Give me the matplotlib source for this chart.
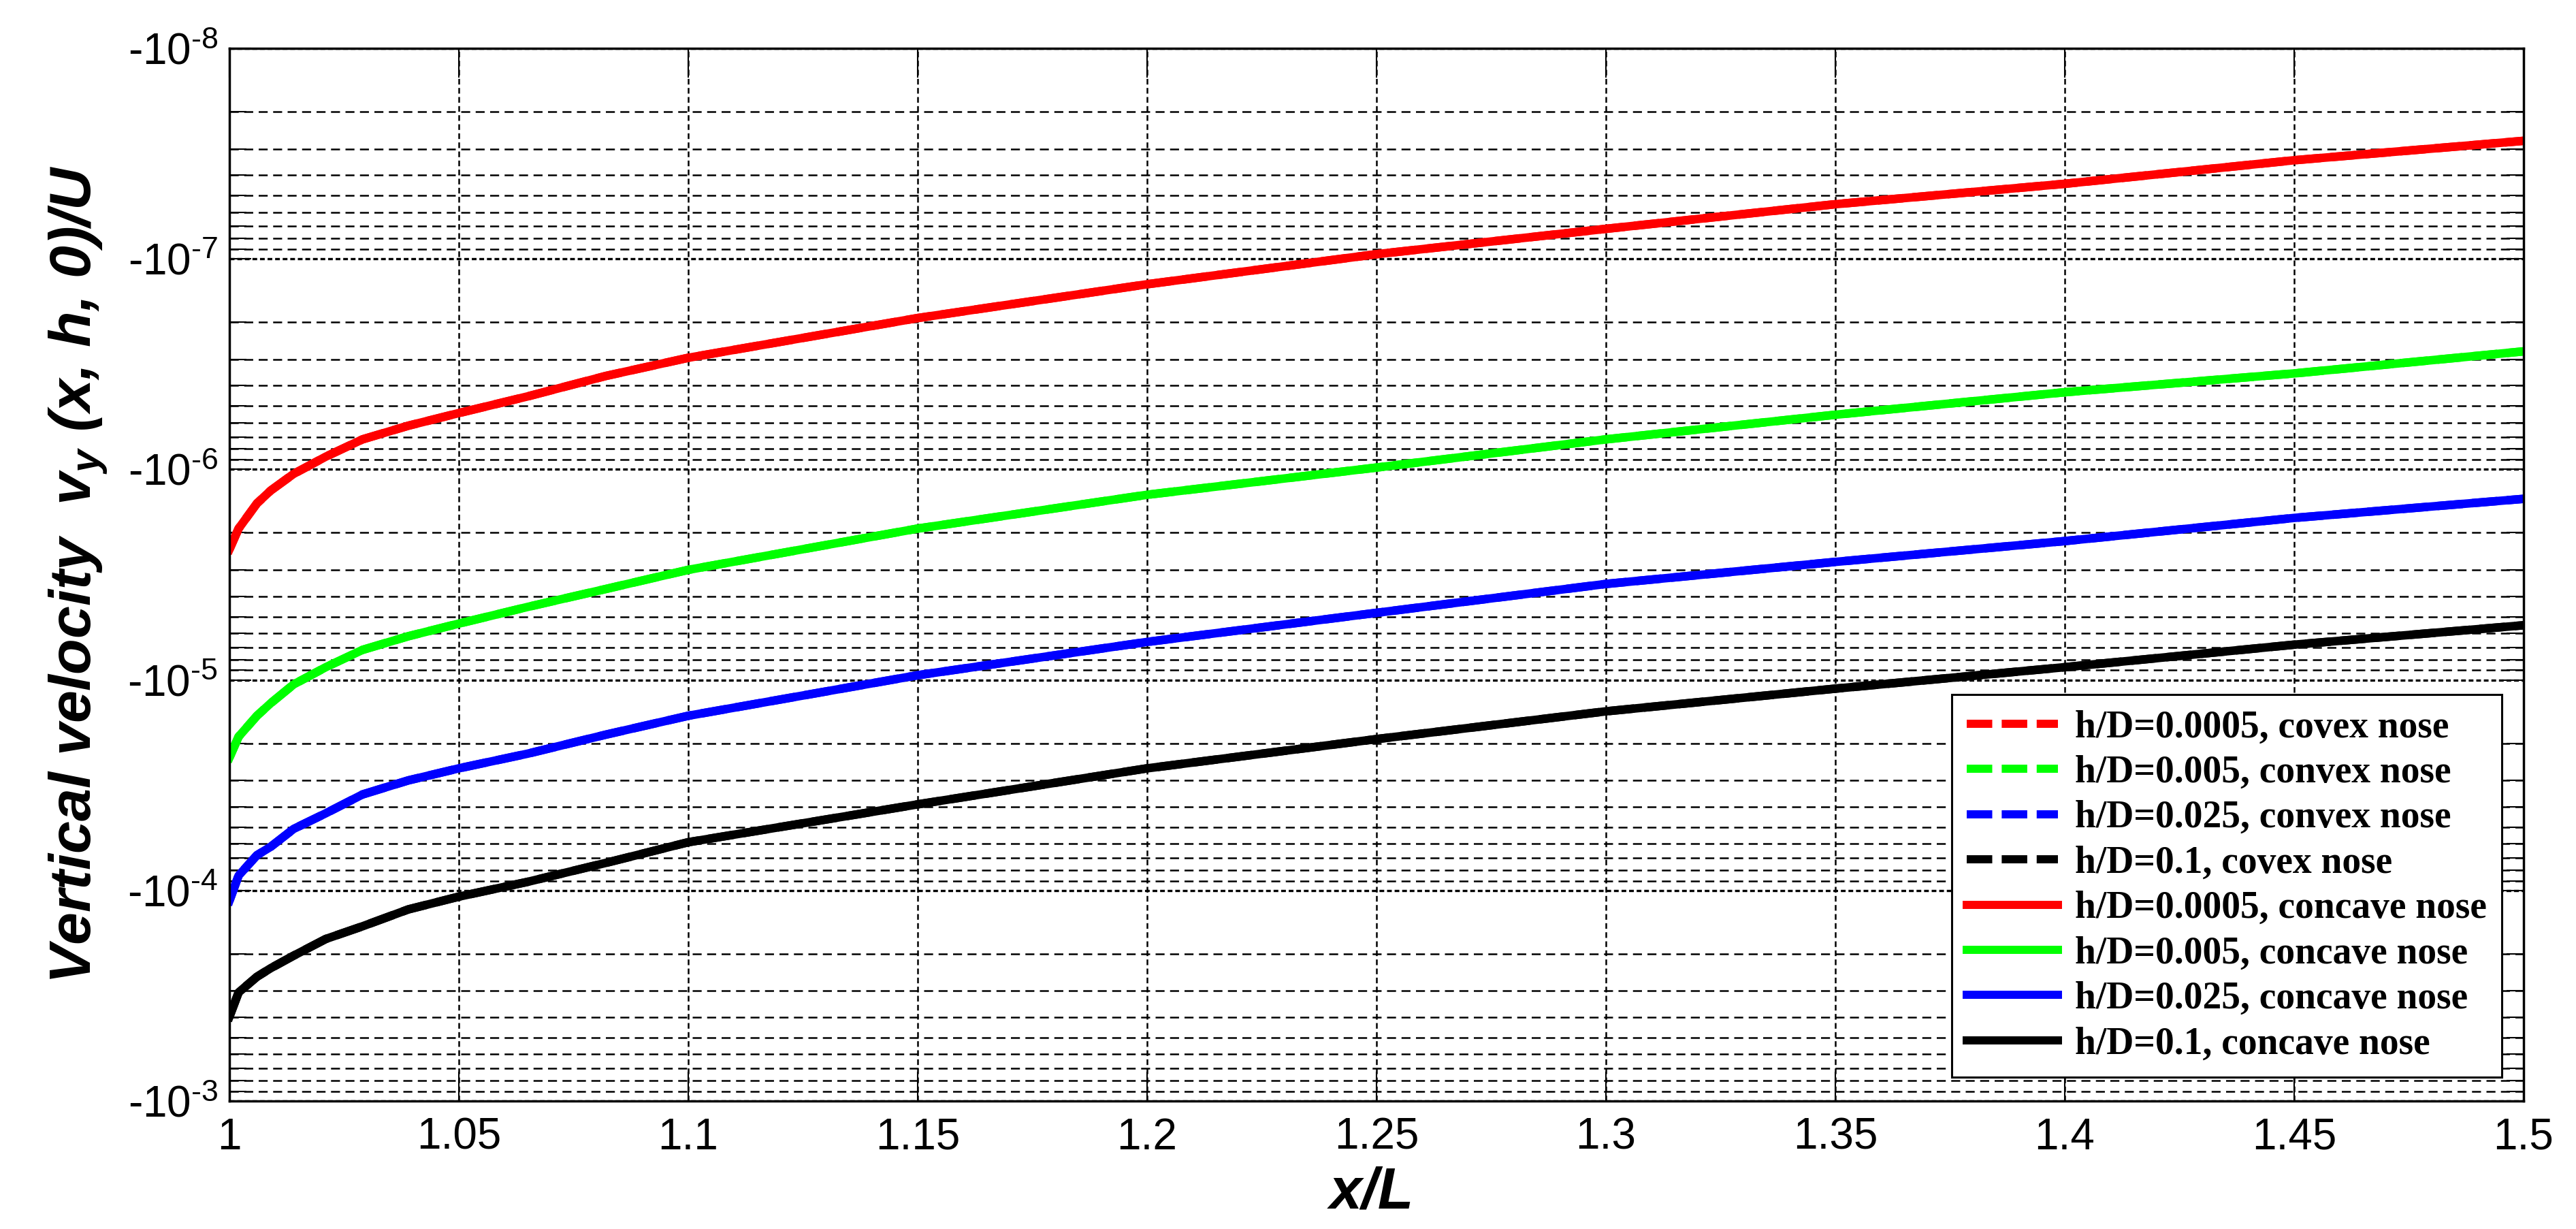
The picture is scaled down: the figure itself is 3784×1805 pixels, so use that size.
import numpy as np
import matplotlib
matplotlib.use("Agg")
import matplotlib.pyplot as plt
from matplotlib.ticker import LogLocator, FixedLocator, FuncFormatter, NullFormatter
from matplotlib.lines import Line2D

# ---------------- data ----------------
x_over_L = [1.0, 1.002, 1.006, 1.009, 1.014, 1.021, 1.029, 1.039, 1.05, 1.065,
            1.082, 1.1, 1.15, 1.2, 1.25, 1.3, 1.35, 1.4, 1.45, 1.5]

# vertical velocity v_y(x, h, 0)/U  (negative values)
vy_hD_0005 = [-2.40e-6, -1.91e-6, -1.45e-6, -1.26e-6, -1.05e-6, -8.7e-7, -7.2e-7, -6.2e-7,
              -5.4e-7, -4.5e-7, -3.6e-7, -2.95e-7, -1.91e-7, -1.32e-7, -9.5e-8, -7.2e-8,
              -5.5e-8, -4.4e-8, -3.4e-8, -2.75e-8]
vy_hD_005 = [-2.34e-5, -1.86e-5, -1.48e-5, -1.29e-5, -1.05e-5, -8.7e-6, -7.2e-6, -6.2e-6,
             -5.4e-6, -4.5e-6, -3.7e-6, -3.0e-6, -1.91e-6, -1.32e-6, -9.8e-7, -7.2e-7,
             -5.5e-7, -4.3e-7, -3.5e-7, -2.75e-7]
vy_hD_025 = [-1.12e-4, -8.5e-5, -6.8e-5, -6.2e-5, -5.1e-5, -4.3e-5, -3.5e-5, -3.0e-5,
             -2.63e-5, -2.24e-5, -1.82e-5, -1.48e-5, -9.5e-6, -6.6e-6, -4.8e-6, -3.5e-6,
             -2.75e-6, -2.19e-6, -1.70e-6, -1.38e-6]
vy_hD_1 = [-3.98e-4, -3.05e-4, -2.57e-4, -2.34e-4, -2.04e-4, -1.70e-4, -1.48e-4, -1.23e-4,
           -1.07e-4, -9.1e-5, -7.4e-5, -5.9e-5, -3.9e-5, -2.63e-5, -1.91e-5, -1.41e-5,
           -1.10e-5, -8.7e-6, -6.8e-6, -5.5e-6]

# convex and concave nose curves coincide at this scale
convex_series = [vy_hD_0005, vy_hD_005, vy_hD_025, vy_hD_1]
concave_series = [vy_hD_0005, vy_hD_005, vy_hD_025, vy_hD_1]

convex_labels = ["h/D=0.0005, covex nose", "h/D=0.005, convex nose",
                 "h/D=0.025, convex nose", "h/D=0.1, covex nose"]
concave_labels = ["h/D=0.0005, concave nose", "h/D=0.005, concave nose",
                  "h/D=0.025, concave nose", "h/D=0.1, concave nose"]
colors = ["#ff0000", "#00ff00", "#0000ff", "#000000"]

x_ticks = [1.0, 1.05, 1.1, 1.15, 1.2, 1.25, 1.3, 1.35, 1.4, 1.45, 1.5]
x_tick_labels = ["1", "1.05", "1.1", "1.15", "1.2", "1.25", "1.3", "1.35", "1.4", "1.45", "1.5"]

# ---------------- style ----------------
plt.rcParams["lines.scale_dashes"] = False
plt.rcParams["font.family"] = ["Liberation Sans", "DejaVu Sans"]
plt.rcParams["mathtext.fontset"] = "custom"
plt.rcParams["mathtext.rm"] = "Liberation Sans"
plt.rcParams["mathtext.it"] = "Liberation Sans:italic:bold"
plt.rcParams["mathtext.bf"] = "Liberation Sans:bold"

fig = plt.figure(figsize=(37.84, 18.05), dpi=100)
ax = fig.add_axes([0.08906, 0.10416, 0.89059, 0.8565])

lw = 9.0
for vals, c in zip(convex_series, colors):
    ax.plot(x_over_L, np.abs(vals), color=c, lw=lw, linestyle=(0, (27, 10)),
            dash_capstyle="butt", dash_joinstyle="round", zorder=3)
for vals, c in zip(concave_series, colors):
    ax.plot(x_over_L, np.abs(vals), color=c, lw=lw, linestyle="-",
            solid_joinstyle="round", zorder=4)

ax.set_yscale("log")
ax.set_ylim(1e-3, 1e-8)
ax.set_xlim(1.0, 1.5)

ax.xaxis.set_major_locator(FixedLocator(x_ticks))
ax.set_xticklabels(x_tick_labels)
ax.yaxis.set_major_locator(LogLocator(base=10, numticks=12))
ax.yaxis.set_minor_locator(LogLocator(base=10, subs=np.arange(2, 10), numticks=12))
ax.yaxis.set_minor_formatter(NullFormatter())


def ylab(val, pos):
    e = int(round(np.log10(val)))
    return r"$\text{-}10^{\text{-}%d}$" % (-e)


ax.yaxis.set_major_formatter(FuncFormatter(ylab))

# grid
ax.grid(True, which="major", axis="x", color="black", lw=1.8, linestyle=(0, (6, 3.6)), zorder=1)
ax.grid(True, which="minor", axis="y", color="black", lw=1.8, linestyle=(0, (9.5, 5.8)), zorder=1)
ax.grid(True, which="major", axis="y", color="black", lw=2.4, linestyle=(0, (5, 3)), zorder=1)
ax.set_axisbelow(True)

ax.tick_params(axis="x", which="major", direction="in", top=True, bottom=True,
               length=31, width=1.5, labelsize=46, pad=17)
ax.tick_params(axis="y", which="major", direction="in", left=True, right=True,
               length=23, width=1.5, labelsize=46, pad=12)
ax.tick_params(axis="y", which="minor", direction="in", left=True, right=True,
               length=18, width=1.5)
for s in ax.spines.values():
    s.set_linewidth(2.5)
    s.set_zorder(6)

ax.set_xlabel("x/L", fontsize=62, fontweight="bold", fontstyle="italic", va="top")
ax.xaxis.set_label_coords(0.498, -0.062)
ax.set_ylabel(r"Vertical velocity  $v_y$ (x, h, 0)/U", fontsize=62,
              fontweight="bold", fontstyle="italic", va="bottom")
ax.yaxis.set_label_coords(-0.0525, 0.5)

# legend
handles = []
labels = []
for c, lab in zip(colors, convex_labels):
    handles.append(Line2D([], [], color=c, lw=8.6, linestyle=(0, (27, 10))))
    labels.append(lab)
for c, lab in zip(colors, concave_labels):
    handles.append(Line2D([], [], color=c, lw=8.6, linestyle="-"))
    labels.append(lab)

leg = ax.legend(handles, labels, loc="upper left",
                bbox_to_anchor=(2867 / 3784, 1 - 1020 / 1805),
                bbox_transform=fig.transFigure,
                prop={"family": "Liberation Serif", "weight": "bold", "size": 40},
                handlelength=2.4, handletextpad=0.45, labelspacing=0.26,
                borderpad=0.4, borderaxespad=0.0, fancybox=False,
                framealpha=1.0, edgecolor="black")
leg.get_frame().set_linewidth(2.2)
leg.set_zorder(10)

fig.savefig("out.png", dpi=100, facecolor="white")
